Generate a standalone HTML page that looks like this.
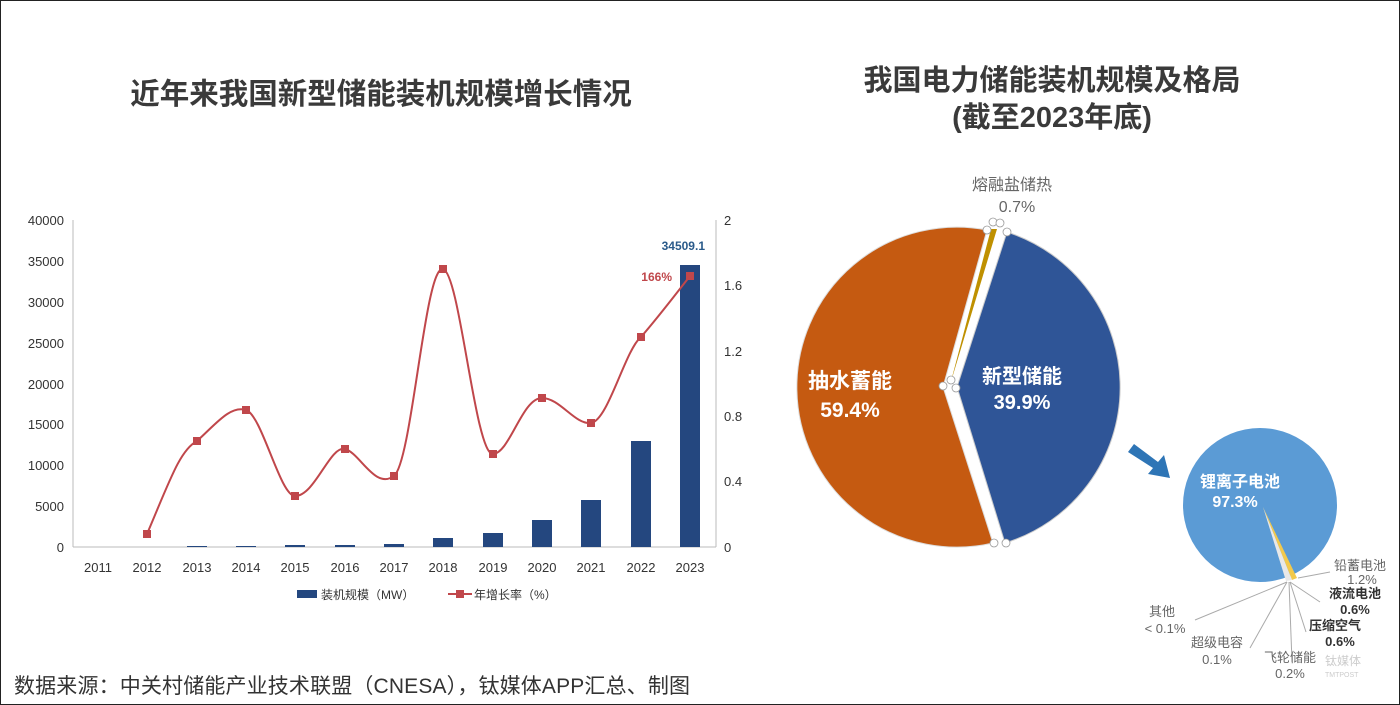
<!DOCTYPE html>
<html><head><meta charset="utf-8"><style>
html,body{margin:0;padding:0;background:#fff}
body{width:1400px;height:705px;overflow:hidden;position:relative;font-family:"Liberation Sans","Noto Sans CJK SC",sans-serif}
.frame{position:absolute;left:0;top:0;width:1398px;height:703px;border:1px solid #222}
</style></head><body>
<div class="frame"></div>
<svg width="1400" height="705" style="position:absolute;left:0;top:0" font-family="Liberation Sans, Noto Sans CJK SC, sans-serif">
<text x="381" y="104" text-anchor="middle" font-size="29.5" font-weight="bold" fill="#3a3a3a">近年来我国新型储能装机规模增长情况</text>
<text x="1052" y="90" text-anchor="middle" font-size="29" font-weight="bold" fill="#3a3a3a">我国电力储能装机规模及格局</text>
<text x="1052" y="127" text-anchor="middle" font-size="29" font-weight="bold" fill="#3a3a3a">(截至2023年底)</text>
<g stroke="#bbb" stroke-width="1">
<line x1="73" y1="220" x2="73" y2="547"/>
<line x1="73" y1="547" x2="716" y2="547"/>
<line x1="716" y1="220" x2="716" y2="547"/>
</g>
<g font-size="13" fill="#333" text-anchor="end">
<text x="64" y="225">40000</text><text x="64" y="266">35000</text><text x="64" y="307">30000</text><text x="64" y="348">25000</text><text x="64" y="389">20000</text><text x="64" y="429">15000</text><text x="64" y="470">10000</text><text x="64" y="511">5000</text><text x="64" y="552">0</text>
</g>
<g font-size="13" fill="#333">
<text x="724" y="225">2</text><text x="724" y="290">1.6</text><text x="724" y="356">1.2</text><text x="724" y="421">0.8</text><text x="724" y="486">0.4</text><text x="724" y="552">0</text>
</g>
<g font-size="13" fill="#333" text-anchor="middle">
<text x="98" y="572">2011</text><text x="147" y="572">2012</text><text x="197" y="572">2013</text><text x="246" y="572">2014</text><text x="295" y="572">2015</text><text x="345" y="572">2016</text><text x="394" y="572">2017</text><text x="443" y="572">2018</text><text x="493" y="572">2019</text><text x="542" y="572">2020</text><text x="591" y="572">2021</text><text x="641" y="572">2022</text><text x="690" y="572">2023</text>
</g>
<g fill="#24477f">
<rect x="187" y="546" width="20" height="1"/><rect x="236" y="546" width="20" height="1"/><rect x="285" y="545" width="20" height="2"/><rect x="335" y="545" width="20" height="2"/><rect x="384" y="544" width="20" height="3"/>
<rect x="433" y="538" width="20" height="9"/><rect x="483" y="533" width="20" height="14"/><rect x="532" y="520" width="20" height="27"/><rect x="581" y="500" width="20" height="47"/><rect x="631" y="441" width="20" height="106"/><rect x="680" y="265" width="20" height="282"/>
</g>
<path d="M147,534 C170,480 180,450 197,441 C215,425 230,405 246,410 C262,415 280,496 295,496 C315,496 330,445 345,449 C360,453 375,490 394,476 C412,462 425,265 443,269 C460,273 475,455 493,454 C510,453 522,398 542,398 C560,398 575,425 591,423 C608,421 625,350 641,337 C660,315 675,295 690,276" fill="none" stroke="#c0474b" stroke-width="2"/>
<g fill="#c0474b">
<rect x="143" y="530" width="8" height="8"/><rect x="193" y="437" width="8" height="8"/><rect x="242" y="406" width="8" height="8"/><rect x="291" y="492" width="8" height="8"/><rect x="341" y="445" width="8" height="8"/><rect x="390" y="472" width="8" height="8"/><rect x="439" y="265" width="8" height="8"/><rect x="489" y="450" width="8" height="8"/><rect x="538" y="394" width="8" height="8"/><rect x="587" y="419" width="8" height="8"/><rect x="637" y="333" width="8" height="8"/><rect x="686" y="272" width="8" height="8"/>
</g>
<text x="705" y="250" text-anchor="end" font-size="12" font-weight="bold" fill="#2a5a8a">34509.1</text>
<text x="672" y="281" text-anchor="end" font-size="12" font-weight="bold" fill="#c0474b">166%</text>
<rect x="297" y="590" width="20" height="8" fill="#24477f"/>
<text x="321" y="599" font-size="12" fill="#333">装机规模（MW）</text>
<line x1="448" y1="594" x2="472" y2="594" stroke="#c0474b" stroke-width="2"/><rect x="456" y="590" width="8" height="8" fill="#c0474b"/>
<text x="474" y="599" font-size="12" fill="#333">年增长率（%）</text>
<text x="14" y="693" font-size="21" fill="#333" textLength="676">数据来源：中关村储能产业技术联盟（CNESA），钛媒体APP汇总、制图</text>
<path d="M943,387 L993,543 A160 160 0 1 1 987,230 Z" fill="#c55a11" stroke="#ddd" stroke-width="1"/>
<path d="M957,387 L1007,232 A163 163 0 0 1 1005,543 Z" fill="#2f5597" stroke="#ccc" stroke-width="1"/>
<path d="M950,385 L991,229 L997,229 Z" fill="#bf9000"/>
<g fill="#fff" stroke="#999" stroke-width="0.8">
<circle cx="943" cy="386" r="4"/><circle cx="951" cy="380" r="4"/><circle cx="956" cy="388" r="4"/><circle cx="994" cy="543" r="4"/><circle cx="1006" cy="543" r="4"/><circle cx="987" cy="230" r="4"/><circle cx="993" cy="222" r="4"/><circle cx="1000" cy="223" r="4"/><circle cx="1007" cy="232" r="4"/>
</g>
<text x="1012" y="190" text-anchor="middle" font-size="16" fill="#666">熔融盐储热</text>
<text x="1017" y="212" text-anchor="middle" font-size="16" fill="#666">0.7%</text>
<text x="850" y="388" text-anchor="middle" font-size="21" font-weight="bold" fill="#fff">抽水蓄能</text>
<text x="850" y="417" text-anchor="middle" font-size="21" font-weight="bold" fill="#fff">59.4%</text>
<text x="1022" y="383" text-anchor="middle" font-size="20" font-weight="bold" fill="#fff">新型储能</text>
<text x="1022" y="409" text-anchor="middle" font-size="20" font-weight="bold" fill="#fff">39.9%</text>
<path d="M1128,452 L1134,444 L1158,462 L1164,455 L1170,478 L1148,474 L1153,468 Z" fill="#2e75b6"/>
<circle cx="1260" cy="505" r="77" fill="#5b9bd5"/>
<path d="M1263,507 L1297,578 L1292,580 Z" fill="#f2c94c"/>
<path d="M1263,507 L1292,580 L1286,581 Z" fill="#e8e8e8"/>
<text x="1240" y="487" text-anchor="middle" font-size="16" font-weight="bold" fill="#fff">锂离子电池</text>
<text x="1235" y="507" text-anchor="middle" font-size="16" font-weight="bold" fill="#fff">97.3%</text>
<g stroke="#aaa" stroke-width="1" fill="none">
<line x1="1298" y1="578" x2="1330" y2="572"/>
<line x1="1290" y1="582" x2="1320" y2="602"/>
<line x1="1290" y1="582" x2="1306" y2="632"/>
<line x1="1289" y1="582" x2="1292" y2="662"/>
<line x1="1287" y1="582" x2="1250" y2="648"/>
<line x1="1287" y1="582" x2="1195" y2="620"/>
</g>
<g font-size="13" text-anchor="middle">
<text x="1360" y="570" fill="#666">铅蓄电池</text><text x="1362" y="584" fill="#666">1.2%</text>
<text x="1355" y="598" fill="#333" font-weight="bold">液流电池</text><text x="1355" y="614" fill="#333" font-weight="bold">0.6%</text>
<text x="1335" y="630" fill="#333" font-weight="bold">压缩空气</text><text x="1340" y="646" fill="#333" font-weight="bold">0.6%</text>
<text x="1162" y="616" fill="#666">其他</text><text x="1165" y="633" fill="#666">&lt; 0.1%</text>
<text x="1217" y="647" fill="#666">超级电容</text><text x="1217" y="664" fill="#666">0.1%</text>
<text x="1290" y="662" fill="#666">飞轮储能</text><text x="1290" y="678" fill="#666">0.2%</text>
</g>
<text x="1325" y="665" font-size="12" fill="#ccc">钛媒体</text>
<text x="1325" y="677" font-size="7" fill="#ccc">TMTPOST</text>
</svg>
</body></html>
